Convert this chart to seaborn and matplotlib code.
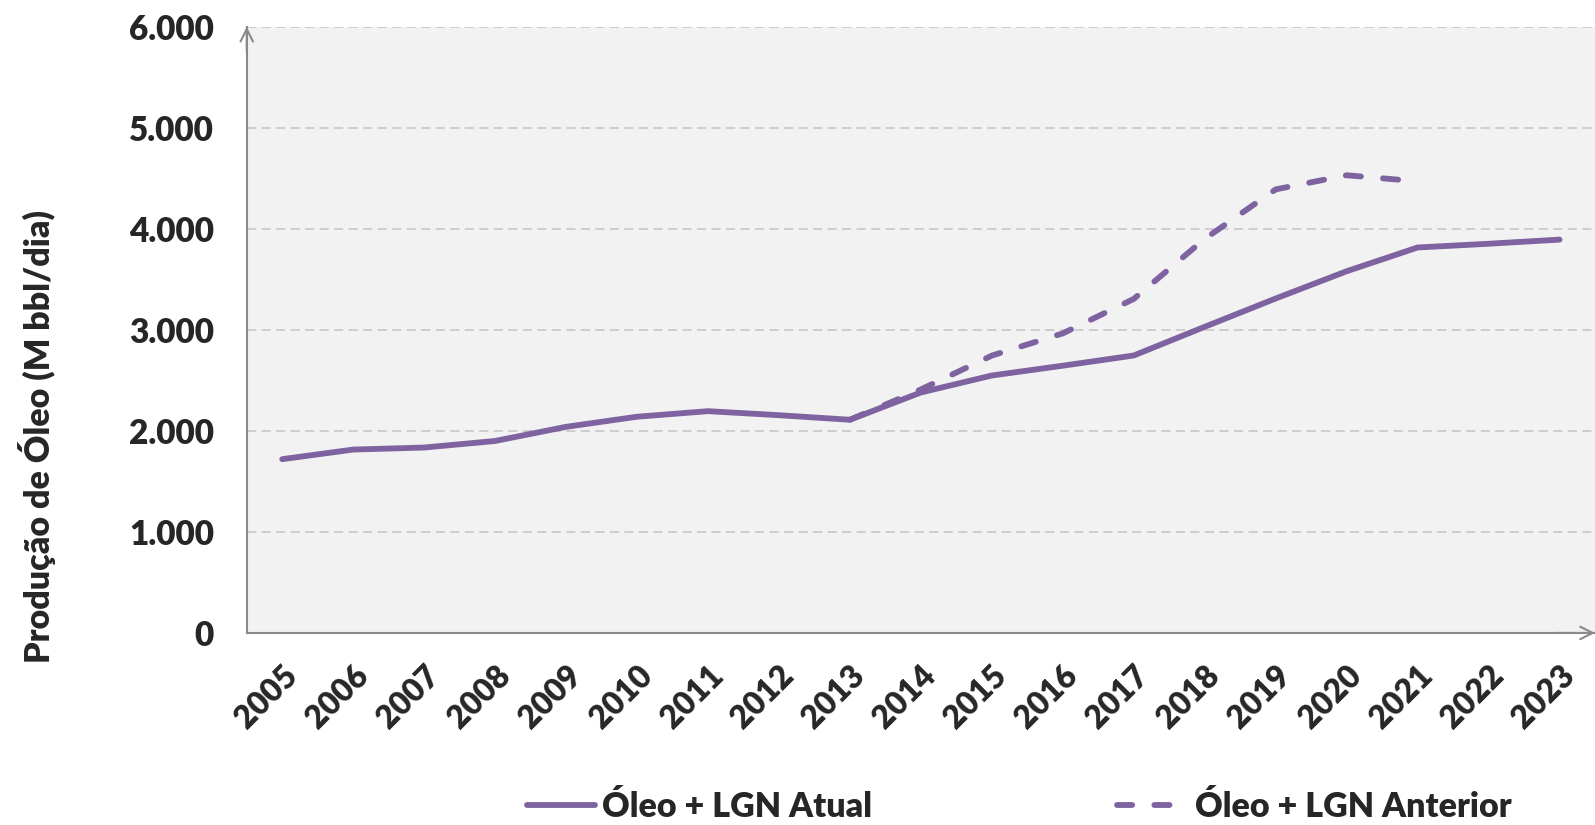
import pandas as pd
import matplotlib
matplotlib.use("Agg")
import matplotlib.pyplot as plt
import seaborn as sns
from matplotlib.ticker import FixedLocator, FuncFormatter

anos = ['2005', '2006', '2007', '2008', '2009', '2010', '2011', '2012', '2013', '2014',
        '2015', '2016', '2017', '2018', '2019', '2020', '2021', '2022', '2023']
atual = [1720, 1815, 1835, 1900, 2040, 2140, 2195, 2155, 2110, 2380,
         2548, 2645, 2746, 3030, 3310, 3580, 3815, 3852, 3893]
anos_anterior = ['2013', '2014', '2015', '2016', '2017', '2018', '2019', '2020', '2021']
anterior = [2110, 2410, 2745, 2965, 3306, 3900, 4390, 4530, 4470]

rotulo_atual = 'Óleo + LGN Atual'
rotulo_anterior = 'Óleo + LGN Anterior'

roxo = '#7f63a1'
cinza = '#8a8a8a'
peso = 'heavy'

sns.set_style('white')
plt.rcParams['font.family'] = ['Lato', 'DejaVu Sans']
plt.rcParams['font.weight'] = peso

df_atual = pd.DataFrame({'pos': [anos.index(a) for a in anos], 'valor': atual})
df_ant = pd.DataFrame({'pos': [anos.index(a) for a in anos_anterior], 'valor': anterior})

fig = plt.figure(figsize=(15.95, 8.25), dpi=100)
ax = fig.add_axes([0.1547, 0.2328, 0.8453, 0.7348])
ax.set_facecolor('#f2f2f2')

sns.lineplot(data=df_atual, x='pos', y='valor', ax=ax, color=roxo, lw=4.2,
             solid_capstyle='round', label=rotulo_atual, legend=False)
sns.lineplot(data=df_ant, x='pos', y='valor', ax=ax, color=roxo, lw=4.2,
             dashes=False, label=rotulo_anterior, legend=False)
linha_ant = ax.lines[-1]
linha_ant.set_dashes((2.6, 3.8))
linha_ant.set_dash_capstyle('round')

ax.set_xlim(-0.5, 18.37)
ax.set_ylim(0, 6000)

ax.yaxis.set_major_locator(FixedLocator(range(0, 6001, 1000)))
ax.yaxis.set_major_formatter(FuncFormatter(lambda v, p: f'{int(v):,}'.replace(',', '.')))
ax.grid(axis='y', color='#c4c4c4', lw=1.1, ls=(0, (6, 3.5)))
ax.grid(axis='x', visible=False)
ax.set_axisbelow(True)

ax.set_xticks(range(len(anos)))
ax.set_xticklabels(anos, rotation=45, ha='right', va='top', rotation_mode='anchor')
ax.set_xticks([i - 0.5 for i in range(len(anos) + 1)], minor=True)
ax.tick_params(axis='x', which='major', length=0, pad=20, labelsize=23)
ax.tick_params(axis='x', which='minor', length=8.6, width=1.5, color=cinza, direction='out')
ax.tick_params(axis='y', length=8.6, width=1.5, color=cinza, direction='out', pad=15, labelsize=24)

ax.set_xlabel('')
ax.set_ylabel('')
for s in ['top', 'right']:
    ax.spines[s].set_visible(False)
for s in ['left', 'bottom']:
    ax.spines[s].set_color(cinza)
    ax.spines[s].set_linewidth(1.5)

ax.annotate('', xy=(0, 1), xytext=(0, 0.96), xycoords='axes fraction',
            arrowprops=dict(arrowstyle='->,head_length=0.9,head_width=0.45', color=cinza,
                            lw=1.5, shrinkA=0, shrinkB=0), annotation_clip=False)
ax.annotate('', xy=(1, 0), xytext=(0.97, 0), xycoords='axes fraction',
            arrowprops=dict(arrowstyle='->,head_length=0.9,head_width=0.45', color=cinza,
                            lw=1.5, shrinkA=0, shrinkB=0), annotation_clip=False)

fig.text(0.023, 0.4715, 'Produção de Óleo (M bbl/dia)', rotation=90,
         ha='center', va='center', fontsize=24.5, fontweight=peso)

h_atual, h_ant = ax.lines[0], linha_ant
fig.legend([h_atual], [rotulo_atual], loc='center left', bbox_to_anchor=(0.3304, 0.0218),
           frameon=False, fontsize=24.5, handlelength=2.0, handletextpad=0.2,
           borderpad=0, borderaxespad=0)
fig.legend([h_ant], [rotulo_anterior], loc='center left', bbox_to_anchor=(0.7003, 0.0218),
           frameon=False, fontsize=24.5, handlelength=1.9, handletextpad=0.4,
           borderpad=0, borderaxespad=0)

plt.savefig('out.png', dpi=100)
